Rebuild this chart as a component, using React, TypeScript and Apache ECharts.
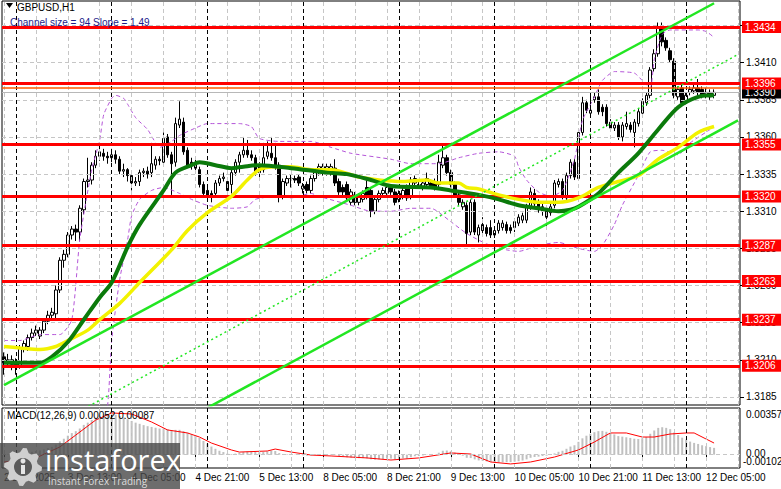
import React, { useEffect, useRef } from 'react';
import * as echarts from 'echarts';

// ---------- data ----------
const opens = [
  1.3212,1.3208,1.3210,1.3207,1.3206,1.3218,1.3219,1.3225,1.3228,1.3226,
  1.3230,1.3236,1.3240,1.3241,1.3257,1.3277,1.3281,1.3294,1.3298,1.3296,
  1.3311,1.3330,1.3331,1.3341,1.3347,1.3349,1.3347,1.3346,1.3348,1.3345,
  1.3337,1.3338,1.3334,1.3329,1.3330,1.3336,1.3337,1.3336,1.3341,1.3345,
  1.3343,1.3360,1.3348,1.3343,1.3368,1.3370,1.3351,1.3343,1.3342,1.3338,
  1.3328,1.3324,1.3322,1.3322,1.3329,1.3332,1.3330,1.3328,1.3336,1.3343,
  1.3348,1.3351,1.3348,1.3346,1.3340,1.3338,1.3347,1.3349,1.3346,1.3341,
  1.3320,1.3329,1.3332,1.3332,1.3333,1.3325,1.3328,1.3324,1.3332,1.3336,
  1.3336,1.3336,1.3336,1.3339,1.3330,1.3326,1.3328,1.3316,1.3321,1.3316,
  1.3318,1.3326,1.3324,1.3310,1.3318,1.3322,1.3322,1.3326,1.3323,1.3318,
  1.3320,1.3326,1.3320,1.3329,1.3328,1.3326,1.3328,1.3329,1.3330,1.3328,
  1.3341,1.3346,1.3336,1.3328,1.3321,1.3313,1.3314,1.3296,1.3316,1.3294,
  1.3301,1.3299,1.3299,1.3294,1.3297,1.3299,1.3301,1.3299,1.3299,1.3302,
  1.3304,1.3304,1.3313,1.3322,1.3316,1.3313,1.3312,1.3309,1.3314,1.3328,
  1.3330,1.3319,1.3334,1.3343,1.3332,1.3363,1.3383,1.3376,1.3385,1.3387,
  1.3380,1.3380,1.3370,1.3366,1.3368,1.3360,1.3367,1.3368,1.3363,1.3369,
  1.3376,1.3383,1.3388,1.3406,1.3416,1.3433,1.3425,1.3418,1.3411,1.3387,
  1.3393,1.3384,1.3390,1.3391,1.3393,1.3392,1.3389,1.3390,1.3388
];
const highs = [
  1.3215,1.3214,1.3213,1.3211,1.3220,1.3223,1.3227,1.3231,1.3233,1.3232,
  1.3238,1.3243,1.3245,1.3260,1.3279,1.3284,1.3296,1.3300,1.3301,1.3314,
  1.3332,1.3346,1.3343,1.3351,1.3354,1.3352,1.3350,1.3352,1.3351,1.3347,
  1.3342,1.3339,1.3336,1.3333,1.3338,1.3339,1.3340,1.3356,1.3347,1.3347,
  1.3363,1.3362,1.3350,1.3373,1.3384,1.3373,1.3353,1.3346,1.3345,1.3340,
  1.3330,1.3326,1.3324,1.3331,1.3334,1.3336,1.3333,1.3338,1.3345,1.3350,
  1.3360,1.3358,1.3351,1.3348,1.3343,1.3356,1.3357,1.3360,1.3356,1.3343,
  1.3332,1.3334,1.3335,1.3334,1.3335,1.3329,1.3330,1.3334,1.3338,1.3342,
  1.3342,1.3342,1.3342,1.3345,1.3332,1.3328,1.3330,1.3325,1.3323,1.3322,
  1.3324,1.3331,1.3326,1.3320,1.3324,1.3326,1.3328,1.3328,1.3325,1.3324,
  1.3326,1.3328,1.3333,1.3334,1.3330,1.3331,1.3336,1.3331,1.3332,1.3348,
  1.3355,1.3348,1.3338,1.3330,1.3323,1.3318,1.3316,1.3318,1.3318,1.3301,
  1.3306,1.3301,1.3304,1.3299,1.3304,1.3304,1.3303,1.3301,1.3305,1.3308,
  1.3309,1.3315,1.3326,1.3325,1.3318,1.3315,1.3314,1.3315,1.3331,1.3332,
  1.3332,1.3336,1.3345,1.3345,1.3365,1.3387,1.3385,1.3388,1.3390,1.3392,
  1.3382,1.3382,1.3372,1.3370,1.3370,1.3370,1.3377,1.3370,1.3372,1.3379,
  1.3386,1.3390,1.3407,1.3419,1.3437,1.3437,1.3427,1.3420,1.3413,1.3394,
  1.3396,1.3390,1.3394,1.3395,1.3399,1.3394,1.3393,1.3392,1.3392
];
const lows = [
  1.3200,1.3205,1.3203,1.3200,1.3204,1.3215,1.3216,1.3223,1.3226,1.3224,
  1.3228,1.3234,1.3237,1.3238,1.3255,1.3272,1.3279,1.3291,1.3290,1.3290,
  1.3308,1.3326,1.3328,1.3339,1.3344,1.3344,1.3342,1.3343,1.3342,1.3335,
  1.3333,1.3330,1.3324,1.3327,1.3327,1.3333,1.3332,1.3333,1.3338,1.3341,
  1.3341,1.3346,1.3321,1.3340,1.3366,1.3348,1.3339,1.3338,1.3336,1.3326,
  1.3320,1.3318,1.3316,1.3320,1.3327,1.3330,1.3322,1.3322,1.3334,1.3336,
  1.3346,1.3346,1.3344,1.3334,1.3333,1.3336,1.3345,1.3344,1.3338,1.3316,
  1.3318,1.3327,1.3326,1.3329,1.3327,1.3322,1.3322,1.3322,1.3330,1.3334,
  1.3334,1.3334,1.3334,1.3327,1.3321,1.3320,1.3317,1.3314,1.3314,1.3314,
  1.3316,1.3318,1.3306,1.3308,1.3316,1.3320,1.3320,1.3321,1.3314,1.3316,
  1.3318,1.3317,1.3318,1.3327,1.3325,1.3324,1.3326,1.3325,1.3324,1.3325,
  1.3339,1.3334,1.3326,1.3319,1.3314,1.3311,1.3286,1.3294,1.3294,1.3289,
  1.3293,1.3293,1.3292,1.3292,1.3295,1.3297,1.3295,1.3295,1.3296,1.3300,
  1.3302,1.3302,1.3311,1.3313,1.3309,1.3307,1.3299,1.3307,1.3312,1.3326,
  1.3318,1.3316,1.3332,1.3331,1.3331,1.3361,1.3376,1.3374,1.3383,1.3375,
  1.3374,1.3367,1.3364,1.3364,1.3358,1.3357,1.3365,1.3363,1.3353,1.3367,
  1.3374,1.3381,1.3386,1.3404,1.3414,1.3421,1.3418,1.3410,1.3386,1.3385,
  1.3381,1.3382,1.3388,1.3389,1.3388,1.3386,1.3386,1.3385,1.3386
];
const closes = [
  1.3208,1.3210,1.3207,1.3206,1.3218,1.3221,1.3225,1.3228,1.3230,1.3230,
  1.3236,1.3240,1.3242,1.3257,1.3277,1.3281,1.3294,1.3298,1.3296,1.3312,
  1.3330,1.3331,1.3341,1.3347,1.3350,1.3347,1.3346,1.3348,1.3345,1.3337,
  1.3338,1.3334,1.3329,1.3330,1.3336,1.3337,1.3335,1.3342,1.3345,1.3344,
  1.3359,1.3348,1.3342,1.3369,1.3372,1.3350,1.3341,1.3341,1.3339,1.3328,
  1.3322,1.3320,1.3320,1.3329,1.3332,1.3333,1.3324,1.3336,1.3343,1.3348,
  1.3351,1.3348,1.3346,1.3336,1.3336,1.3346,1.3350,1.3346,1.3340,1.3320,
  1.3330,1.3332,1.3332,1.3331,1.3329,1.3327,1.3324,1.3332,1.3336,1.3340,
  1.3340,1.3340,1.3340,1.3329,1.3323,1.3323,1.3319,1.3323,1.3316,1.3320,
  1.3322,1.3320,1.3310,1.3318,1.3322,1.3324,1.3326,1.3323,1.3316,1.3322,
  1.3324,1.3319,1.3331,1.3332,1.3327,1.3329,1.3332,1.3327,1.3326,1.3343,
  1.3346,1.3336,1.3328,1.3321,1.3316,1.3316,1.3295,1.3316,1.3296,1.3299,
  1.3297,1.3295,1.3294,1.3297,1.3302,1.3302,1.3297,1.3297,1.3303,1.3306,
  1.3307,1.3313,1.3323,1.3315,1.3311,1.3310,1.3306,1.3313,1.3329,1.3330,
  1.3320,1.3334,1.3343,1.3333,1.3363,1.3383,1.3378,1.3378,1.3387,1.3377,
  1.3377,1.3369,1.3366,1.3368,1.3360,1.3368,1.3369,1.3365,1.3370,1.3377,
  1.3384,1.3388,1.3405,1.3416,1.3433,1.3424,1.3420,1.3412,1.3388,1.3392,
  1.3383,1.3388,1.3392,1.3393,1.3390,1.3388,1.3390,1.3387,1.3390
];

// moving averages, bands, channel (bar index, price)
const maGreen = [
  [0,1.3208],[9,1.3208],[12,1.3212],[16,1.3222],[20,1.3237],[24,1.3252],[27,1.3262],
  [31,1.3286],[34,1.3301],[40,1.3324],[43,1.3336],[47,1.3341],[49,1.3343],[53,1.3341],
  [57,1.3339],[60,1.3340],[64,1.3341],[72,1.3339],[81,1.3336],[86,1.3335],[92,1.3331],
  [97,1.3327],[107,1.3326],[112,1.3324],[119,1.3321],[124,1.3318],[129,1.3314],
  [134,1.3312],[139,1.3310],[142,1.3311],[144,1.3313],[149,1.3322],[154,1.3336],
  [159,1.3349],[164,1.3365],[169,1.3380],[174,1.3387],[178,1.3388]
];
const maYellow = [
  [0,1.3219],[4,1.3218],[9,1.3217],[13,1.3219],[16,1.3223],[21,1.3230],[24,1.3237],
  [29,1.3248],[34,1.3262],[42,1.3284],[46,1.3297],[51,1.3309],[57,1.3320],[61,1.3331],
  [64,1.3338],[68,1.3340],[72,1.3340],[77,1.3338],[82,1.3338],[89,1.3333],[94,1.3331],
  [100,1.3330],[106,1.3331],[109,1.3329],[114,1.3329],[116,1.3326],[119,1.3325],
  [124,1.3321],[129,1.3318],[134,1.3316],[139,1.3316],[144,1.3319],[149,1.3326],
  [154,1.3330],[159,1.3334],[164,1.3345],[169,1.3353],[174,1.3363],[178,1.3367]
];
const bandUpper = [
  [0,1.3223],[4,1.3223],[9,1.3227],[14,1.3227],[17,1.3237],[19,1.3291],[22,1.3338],
  [24,1.3358],[25,1.3375],[27,1.3386],[28,1.3388],[30,1.3386],[31,1.3382],[33,1.3373],
  [36,1.3365],[38,1.3356],[39,1.3353],[42,1.3357],[44,1.3361],[48,1.3366],[51,1.3369],
  [59,1.3369],[62,1.3367],[64,1.3359],[69,1.3357],[77,1.3357],[82,1.3353],[87,1.3349],
  [97,1.3345],[102,1.3342],[109,1.3342],[114,1.3346],[119,1.3349],[124,1.3350],
  [128,1.3347],[129,1.3340],[131,1.3331],[134,1.3323],[137,1.3320],[140,1.3324],
  [143,1.3345],[145,1.3371],[148,1.3387],[150,1.3398],[153,1.3404],[158,1.3403],
  [160,1.3398],[162,1.3393],[163,1.3412],[165,1.3429],[167,1.3432],[174,1.3432],
  [176,1.3431],[178,1.3427]
];
const bandLower = [
  [24,1.3156],[26,1.3180],[27,1.3223],[29,1.3264],[31,1.3291],[32,1.3307],[34,1.3318],
  [37,1.3324],[40,1.3326],[44,1.3322],[47,1.3318],[51,1.3314],[57,1.3312],[61,1.3313],
  [63,1.3318],[68,1.3320],[72,1.3319],[77,1.3322],[79,1.3320],[87,1.3314],[92,1.3310],
  [97,1.3310],[102,1.3312],[107,1.3312],[112,1.3303],[116,1.3295],[121,1.3288],
  [126,1.3284],[129,1.3283],[134,1.3287],[139,1.3289],[144,1.3285],[148,1.3283],
  [150,1.3287],[153,1.3301],[155,1.3314],[159,1.3334],[162,1.3350],[165,1.3351],
  [169,1.3348],[172,1.3356],[177,1.3365]
];
const channelUpper = [[0,1.3193],[178,1.3450]];
const channelLower = [[40,1.31617],[184,1.33711]];
const channelMid = [[20,1.31770],[184,1.34155]];

// MACD
const macdHist = [
  0.00005,0.00003,0.00002,0.00000,0.00005,0.00010,0.00016,0.00022,0.00028,0.00032,
  0.00040,0.00050,0.00060,0.00078,0.00102,0.00122,0.00145,0.00165,0.00180,0.00200,
  0.00228,0.00245,0.00265,0.00282,0.00296,0.00305,0.00311,0.00310,0.00305,0.00296,
  0.00285,0.00272,0.00258,0.00245,0.00236,0.00226,0.00218,0.00212,0.00206,0.00200,
  0.00200,0.00195,0.00188,0.00190,0.00190,0.00180,0.00168,0.00155,0.00145,0.00128,
  0.00105,0.00085,0.00062,0.00045,0.00030,0.00020,0.00008,0.00005,0.00008,0.00014,
  0.00020,0.00024,0.00026,0.00022,0.00018,0.00020,0.00025,0.00030,0.00028,0.00012,
  0.00005,0.00004,0.00003,0.00002,0.00000,-0.00005,-0.00008,-0.00006,-0.00003,0.00000,
  0.00002,0.00003,0.00004,-0.00003,-0.00010,-0.00014,-0.00020,-0.00022,-0.00026,-0.00027,
  -0.00026,-0.00028,-0.00036,-0.00038,-0.00036,-0.00034,-0.00030,-0.00030,-0.00034,-0.00032,
  -0.00028,-0.00030,-0.00020,-0.00012,-0.00010,-0.00006,-0.00002,0.00000,0.00000,0.00015,
  0.00030,0.00032,0.00026,0.00016,0.00004,-0.00008,-0.00024,-0.00026,-0.00036,-0.00044,
  -0.00048,-0.00052,-0.00056,-0.00058,-0.00058,-0.00058,-0.00058,-0.00057,-0.00054,-0.00050,
  -0.00045,-0.00036,-0.00024,-0.00018,-0.00015,-0.00010,-0.00008,-0.00002,0.00010,0.00022,
  0.00030,0.00045,0.00062,0.00072,0.00098,0.00125,0.00145,0.00160,0.00172,0.00180,
  0.00182,0.00175,0.00165,0.00155,0.00142,0.00138,0.00133,0.00128,0.00122,0.00120,
  0.00125,0.00135,0.00160,0.00185,0.00205,0.00210,0.00205,0.00195,0.00170,0.00150,
  0.00130,0.00115,0.00100,0.00090,0.00082,0.00072,0.00065,0.00058,0.00052
];
const macdSignal = [
  [0,-0.00056],[8,-0.00025],[14,0.00059],[18,0.00150],[23,0.00265],[27,0.00319],
  [32,0.00311],[37,0.00250],[41,0.00189],[46,0.00166],[49,0.00135],[52,0.00089],
  [57,0.00036],[59,0.00020],[66,0.00028],[68,0.00043],[72,0.00020],[77,-0.00003],
  [82,-0.00010],[91,-0.00025],[97,-0.00041],[104,-0.00025],[112,0.00013],[117,0.00005],
  [122,-0.00056],[127,-0.00071],[132,-0.00056],[138,-0.00018],[144,0.00036],[148,0.00097],
  [152,0.00166],[156,0.00166],[160,0.00135],[163,0.00135],[167,0.00158],[171,0.00166],
  [173,0.00166],[178,0.00089]
];

const levelPrices = [1.3434, 1.3396, 1.3355, 1.3320, 1.3287, 1.3263, 1.3237, 1.3206];
const bidPrice = 1.3390;
const orangePrice = 1.3393;
const priceTicks = [1.3185, 1.3210, 1.3235, 1.3260, 1.3285, 1.3310, 1.3335, 1.3360, 1.3385, 1.3410, 1.3435];
const timeLabels = ['2 Dec 2025', '3 Dec 13:00', '4 Dec 05:00', '4 Dec 21:00', '5 Dec 13:00', '8 Dec 05:00',
  '8 Dec 21:00', '9 Dec 13:00', '10 Dec 05:00', '10 Dec 21:00', '11 Dec 13:00', '12 Dec 05:00'];
const LABEL_STEP = 16;
const GRID_STEP = 8;
const daySeparators = [3, 27, 51, 75, 99, 123, 147, 171];
const TOTAL_SLOTS = 185;

// ---------- chart ----------
const FONT = '"Liberation Sans", Arial, sans-serif';
const cats = Array.from({ length: TOTAL_SLOTS }, (_, i) => String(i));

function verticalLines() {
  const out: any[] = [];
  for (let i = 0; i < TOTAL_SLOTS; i += GRID_STEP) {
    if (daySeparators.indexOf(i) >= 0) continue;
    out.push({ xAxis: String(i), lineStyle: { color: '#c6c6c6', type: [4, 3], width: 1 } });
  }
  daySeparators.forEach((d) => out.push({ xAxis: String(d), lineStyle: { color: '#000', type: [4, 3], width: 1 } }));
  return out;
}

function gearPoints(cx: number, cy: number, R: number, r: number, teeth: number) {
  const pts: number[][] = [];
  const n = teeth * 4;
  for (let k = 0; k < n; k++) {
    const a = (k / n) * Math.PI * 2;
    const rad = k % 4 < 2 ? R : r;
    pts.push([cx + rad * Math.cos(a), cy + rad * Math.sin(a)]);
  }
  return pts;
}

function buildOption() {
  const candleData = opens.map((o, i) => [o, closes[i], lows[i], highs[i]]);
  const hLines = priceTicks.map((p) => ({ yAxis: p, lineStyle: { color: '#c6c6c6', type: [4, 3], width: 1 } }));
  const redLevels = levelPrices.map((p) => ({
    yAxis: p,
    lineStyle: { color: '#ff0000', width: 3, type: 'solid' },
    label: {
      show: true, position: 'end', distance: 2, formatter: p.toFixed(4), color: '#fff',
      backgroundColor: '#ff0000', padding: [1, 12, 1, 3], fontSize: 10, lineHeight: 10, fontFamily: FONT,
    },
  }));
  const lineCommon = { symbol: 'none', silent: true, xAxisIndex: 0, yAxisIndex: 0 };

  return {
    animation: false,
    backgroundColor: '#ffffff',
    textStyle: { fontFamily: FONT },
    grid: [
      { left: 2, top: 1, width: 738, height: 404, show: true, borderColor: '#000', borderWidth: 1, backgroundColor: '#fff' },
      { left: 2, top: 408, width: 738, height: 60, show: true, borderColor: '#000', borderWidth: 1, backgroundColor: '#fff' },
    ],
    xAxis: [
      {
        type: 'category', gridIndex: 0, data: cats, boundaryGap: true,
        axisLine: { show: false }, axisTick: { show: false }, axisLabel: { show: false }, splitLine: { show: false },
      },
      {
        type: 'category', gridIndex: 1, data: cats, boundaryGap: true,
        axisLine: { show: false },
        axisTick: {
          show: true, alignWithLabel: true, length: 4, lineStyle: { color: '#000' },
          interval: (idx: number) => idx % LABEL_STEP === 0 && idx / LABEL_STEP < timeLabels.length,
        },
        axisLabel: {
          show: true, margin: 4, fontSize: 10, color: '#000', align: 'left', fontFamily: FONT,
          interval: (idx: number) => idx % LABEL_STEP === 0 && idx / LABEL_STEP < timeLabels.length,
          formatter: (_v: string, idx: number) => timeLabels[Math.round(idx / LABEL_STEP)] || '',
        },
        splitLine: { show: false },
      },
    ],
    yAxis: [
      {
        type: 'value', gridIndex: 0, position: 'right', min: 1.31796, max: 1.34515, scale: true,
        axisLine: { show: false }, splitLine: { show: false },
        axisTick: { show: true, length: 4, customValues: priceTicks, lineStyle: { color: '#000' } },
        axisLabel: {
          show: true, customValues: priceTicks, margin: 6, fontSize: 10, color: '#000', fontFamily: FONT,
          formatter: (v: number) => v.toFixed(4),
        },
      },
      {
        type: 'value', gridIndex: 1, position: 'right', min: -0.00102, max: 0.00357,
        axisLine: { show: false }, splitLine: { show: false }, axisTick: { show: false }, axisLabel: { show: false },
      },
    ],
    series: [
      {
        type: 'line', name: 'grid-main', ...lineCommon, data: closes, lineStyle: { opacity: 0 }, z: 1,
        markLine: { silent: true, precision: 6, symbol: ['none', 'none'], label: { show: false }, animation: false,
          data: [...hLines, ...verticalLines()] },
      },
      {
        type: 'line', name: 'levels', ...lineCommon, data: closes, lineStyle: { opacity: 0 }, z: 2,
        markLine: {
          silent: true, precision: 6, symbol: ['none', 'none'], label: { show: false }, animation: false,
          data: [
            { yAxis: bidPrice, lineStyle: { color: '#b8b8b8', width: 1, type: 'solid' },
              label: { show: true, position: 'end', distance: 2, formatter: bidPrice.toFixed(4), color: '#fff',
                backgroundColor: '#000', padding: [1, 12, 1, 3], fontSize: 10, lineHeight: 10, fontFamily: FONT } },
            { yAxis: orangePrice, lineStyle: { color: '#ff5a00', width: 1.5, type: 'solid' } },
            ...redLevels,
          ],
        },
      },
      {
        type: 'candlestick', name: 'GBPUSD', xAxisIndex: 0, yAxisIndex: 0, data: candleData, barWidth: 3, z: 3,
        itemStyle: { color: '#fff', color0: '#000', borderColor: '#000', borderColor0: '#000', borderWidth: 1 },
        silent: true,
      },
      { type: 'line', name: 'bandUp', ...lineCommon, data: bandUpper, smooth: 0.2, z: 4,
        lineStyle: { color: '#b455d8', width: 1, type: [4, 3] } },
      { type: 'line', name: 'bandLow', ...lineCommon, data: bandLower, smooth: 0.2, z: 4,
        lineStyle: { color: '#b455d8', width: 1, type: [4, 3] } },
      { type: 'line', name: 'maYellow', ...lineCommon, data: maYellow, smooth: 0.3, z: 5,
        lineStyle: { color: '#f2f200', width: 3.5 } },
      { type: 'line', name: 'maGreen', ...lineCommon, data: maGreen, smooth: 0.3, z: 6,
        lineStyle: { color: '#0b7a0b', width: 4 } },
      { type: 'line', name: 'chUp', ...lineCommon, data: channelUpper, z: 7,
        lineStyle: { color: '#22e622', width: 2.5 } },
      { type: 'line', name: 'chLow', ...lineCommon, data: channelLower, z: 7,
        lineStyle: { color: '#22e622', width: 2.5 } },
      { type: 'line', name: 'chMid', ...lineCommon, data: channelMid, z: 7,
        lineStyle: { color: '#22e622', width: 1.5, type: [2, 3] } },
      {
        type: 'line', name: 'grid-macd', symbol: 'none', silent: true, xAxisIndex: 1, yAxisIndex: 1,
        data: macdHist, lineStyle: { opacity: 0 }, z: 1,
        markLine: { silent: true, precision: 6, symbol: ['none', 'none'], label: { show: false }, animation: false,
          data: [{ yAxis: 0, lineStyle: { color: '#c6c6c6', type: [4, 3], width: 1 } }, ...verticalLines()] },
      },
      { type: 'bar', name: 'MACD', xAxisIndex: 1, yAxisIndex: 1, data: macdHist, barWidth: 2, z: 3, silent: true,
        itemStyle: { color: '#c0c0c0' } },
      { type: 'line', name: 'Signal', symbol: 'none', silent: true, xAxisIndex: 1, yAxisIndex: 1, data: macdSignal, z: 4,
        lineStyle: { color: '#ff0000', width: 1 } },
    ],
    graphic: [
      { type: 'polygon', z: 100, shape: { points: [[6, 3], [13, 3], [9.5, 8]] }, style: { fill: '#000' } },
      { type: 'text', z: 100, x: 17, y: 7, style: { text: 'GBPUSD,H1', fill: '#000', font: `10px ${FONT}`, verticalAlign: 'middle' } },
      { type: 'text', z: 100, x: 10, y: 22, style: { text: 'Channel size = 94 Slope = 1.49', fill: '#1c1c8a', font: `10px ${FONT}`, verticalAlign: 'middle' } },
      { type: 'text', z: 100, x: 7, y: 415, style: { text: 'MACD(12,26,9) 0.00052 0.00087', fill: '#000', font: `10px ${FONT}`, verticalAlign: 'middle' } },
      { type: 'text', z: 100, x: 746, y: 414, style: { text: '0.00357', fill: '#000', font: `10px ${FONT}`, verticalAlign: 'middle' } },
      { type: 'text', z: 100, x: 746, y: 453, style: { text: '0.00', fill: '#000', font: `10px ${FONT}`, verticalAlign: 'middle' } },
      { type: 'text', z: 100, x: 743, y: 461, style: { text: '-0.00102', fill: '#000', font: `10px ${FONT}`, verticalAlign: 'middle' } },
      // watermark
      { type: 'rect', z: 200, shape: { x: 0, y: 443, width: 180, height: 46 }, style: { fill: 'rgba(72,72,72,0.8)' } },
      { type: 'polygon', z: 201, shape: { points: gearPoints(23, 467, 19, 15, 8) }, style: { fill: '#cfcfcf' } },
      { type: 'circle', z: 202, shape: { cx: 23, cy: 467, r: 9 }, style: { fill: '#5a5a5a' } },
      { type: 'circle', z: 203, shape: { cx: 23, cy: 461, r: 2.5 }, style: { fill: '#e6e6e6' } },
      { type: 'rect', z: 203, shape: { x: 21, y: 465, width: 4, height: 9 }, style: { fill: '#e6e6e6' } },
      { type: 'text', z: 204, x: 45, y: 459, style: { text: 'instaforex', fill: '#ffffff', font: `29px "Open Sans", Lato, sans-serif`, verticalAlign: 'middle' } },
      { type: 'text', z: 204, x: 48, y: 481, style: { text: 'Instant Forex Trading', fill: '#dcdcdc', font: `10px "Open Sans", Lato, sans-serif`, verticalAlign: 'middle' } },
    ],
  };
}

export default function App() {
  const ref = useRef<HTMLDivElement>(null);
  useEffect(() => {
    document.body.style.margin = '0';
    const chart = echarts.init(ref.current as HTMLDivElement, null, { renderer: 'svg', width: 781, height: 489 });
    chart.setOption(buildOption() as any);
    return () => chart.dispose();
  }, []);
  return <div ref={ref} style={{ width: 781, height: 489, position: 'fixed', left: 0, top: 0 }} />;
}
